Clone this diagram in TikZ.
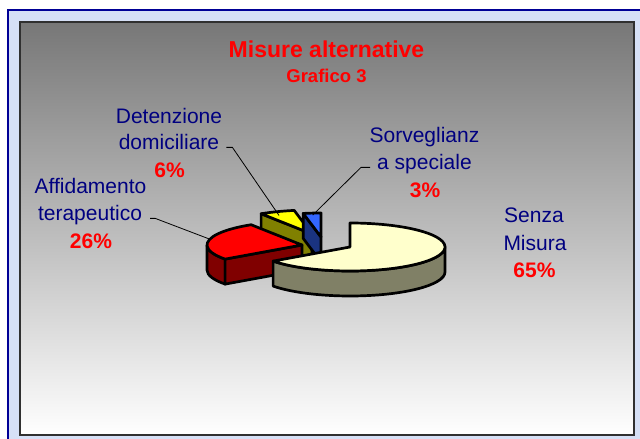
\documentclass[tikz,border=0pt]{standalone}
\usepackage{fontspec}
\setmainfont{Liberation Sans}
\usetikzlibrary{calc}
\definecolor{navytxt}{RGB}{0,0,128}
\definecolor{bgblue}{RGB}{214,224,246}
\definecolor{borderblue}{RGB}{0,0,150}
\definecolor{frame}{RGB}{48,48,48}
\definecolor{topgray}{RGB}{119,119,119}
\definecolor{bigtop}{RGB}{255,255,204}
\definecolor{bigside}{RGB}{128,128,102}
\definecolor{redtop}{RGB}{255,0,0}
\definecolor{redside}{RGB}{128,0,0}
\definecolor{yeltop}{RGB}{255,255,0}
\definecolor{yelside}{RGB}{128,128,0}
\definecolor{blutop}{RGB}{51,102,255}
\definecolor{bluside}{RGB}{26,51,128}
\begin{document}
\begin{tikzpicture}[x=1pt,y=1pt,
  lbl/.style={text=navytxt,font=\fontsize{21}{25}\selectfont,inner sep=0pt,anchor=base},
  pct/.style={text=redtop,font=\fontsize{21}{25}\selectfont\bfseries,inner sep=0pt,anchor=base},
  face/.style={draw=black,line width=2.7pt,line join=round},
  leader/.style={draw=black,line width=0.8pt},
  er/.style={x radius=95pt,y radius=24pt}]
\useasboundingbox (0,0) rectangle (640,439);
\fill[white] (0,0) rectangle (640,439);
\fill[bgblue] (8,0) rectangle (640,429);
\draw[borderblue,line width=2pt] (8,0) -- (8,429) -- (640,429);
\shade[top color=topgray,bottom color=white] (19.5,4) rectangle (633.5,417);
\draw[frame,line width=2pt] (19.5,4) rectangle (633.5,417);

% title
\node[text=redtop,font=\fontsize{23}{27}\selectfont\bfseries,inner sep=0pt,anchor=base] (title) at (326.5,381) {Misure alternative};
\node[text=redtop,font=\fontsize{18.5}{22}\selectfont\bfseries,inner sep=0pt,anchor=base] (sub) at (326.5,356) {Grafico 3};

% apexes
\coordinate (big) at (350,192);
\coordinate (red) at (302,194);
\coordinate (yel) at (312,205);
\coordinate (blu) at (321,202);

% yellow slice
\filldraw[face,fill=yelside] (yel) -- ($(yel)+(122.4:95pt and 24pt)$) -- ++(0,-25) -- ($(yel)+(0,-25)$) -- cycle;
\filldraw[face,fill=yeltop] (yel) -- ($(yel)+(100.8:95pt and 24pt)$) arc[start angle=100.8,end angle=122.4,er] -- cycle;
% blue slice
\filldraw[face,fill=bluside] (blu) -- ($(blu)+(100.8:95pt and 24pt)$) -- ++(0,-25) -- ($(blu)+(0,-25)$) -- cycle;
\filldraw[face,fill=blutop] (blu) -- ($(blu)+(90:95pt and 24pt)$) arc[start angle=90,end angle=100.8,er] -- cycle;
% red slice
\filldraw[face,fill=redside] ($(red)+(180:95pt and 24pt)$) arc[start angle=180,end angle=216,er] -- ++(0,-25) arc[start angle=216,end angle=180,er] -- cycle;
\filldraw[face,fill=redside] (red) -- ($(red)+(216:95pt and 24pt)$) -- ++(0,-25) -- ($(red)+(0,-25)$) -- cycle;
\filldraw[face,fill=redtop] (red) -- ($(red)+(122.4:95pt and 24pt)$) arc[start angle=122.4,end angle=216,er] -- cycle;
% big slice
\filldraw[face,fill=bigside] ($(big)+(216:95pt and 24pt)$) arc[start angle=216,end angle=360,er] -- ++(0,-25) arc[start angle=360,end angle=216,er] -- cycle;
\filldraw[face,fill=bigtop] (big) -- ($(big)+(216:95pt and 24pt)$) arc[start angle=216,end angle=450,er] -- cycle;

% leader targets
\coordinate (ydet) at ($(yel)+(112:88pt and 20pt)$);
\coordinate (rlead) at ($(red)+(166:95pt and 24pt)$);
\coordinate (blead) at ($(blu)+(95:95pt and 22pt)$);

% labels
\node[lbl] (detA) at (169,315) {Detenzione};
\node[lbl] (detB) at (169,289) {domiciliare};
\node[pct] (detP) at (169.5,261) {6\%};
\node[lbl] (affA) at (90.5,245) {Affidamento};
\node[lbl] (affB) at (90,218) {terapeutico};
\node[pct] (affP) at (91,190) {26\%};
\node[lbl] (sorA) at (424.5,296) {Sorveglianz};
\node[lbl] (sorB) at (424.5,269) {a speciale};
\node[pct] (sorP) at (425,241) {3\%};
\node[lbl] (senA) at (534,216) {Senza};
\node[lbl] (senB) at (535,188) {Misura};
\node[pct] (senP) at (534.5,161) {65\%};

% leaders
\draw[leader] ([xshift=7pt]detB.mid east) -- ++(6,0) -- (ydet);
\draw[leader] ([xshift=8pt]affB.mid east) -- ++(5,0) -- (rlead);
\draw[leader] ([xshift=-7pt]sorB.mid west) -- ++(-9,0) -- (blead);
\end{tikzpicture}
\end{document}
